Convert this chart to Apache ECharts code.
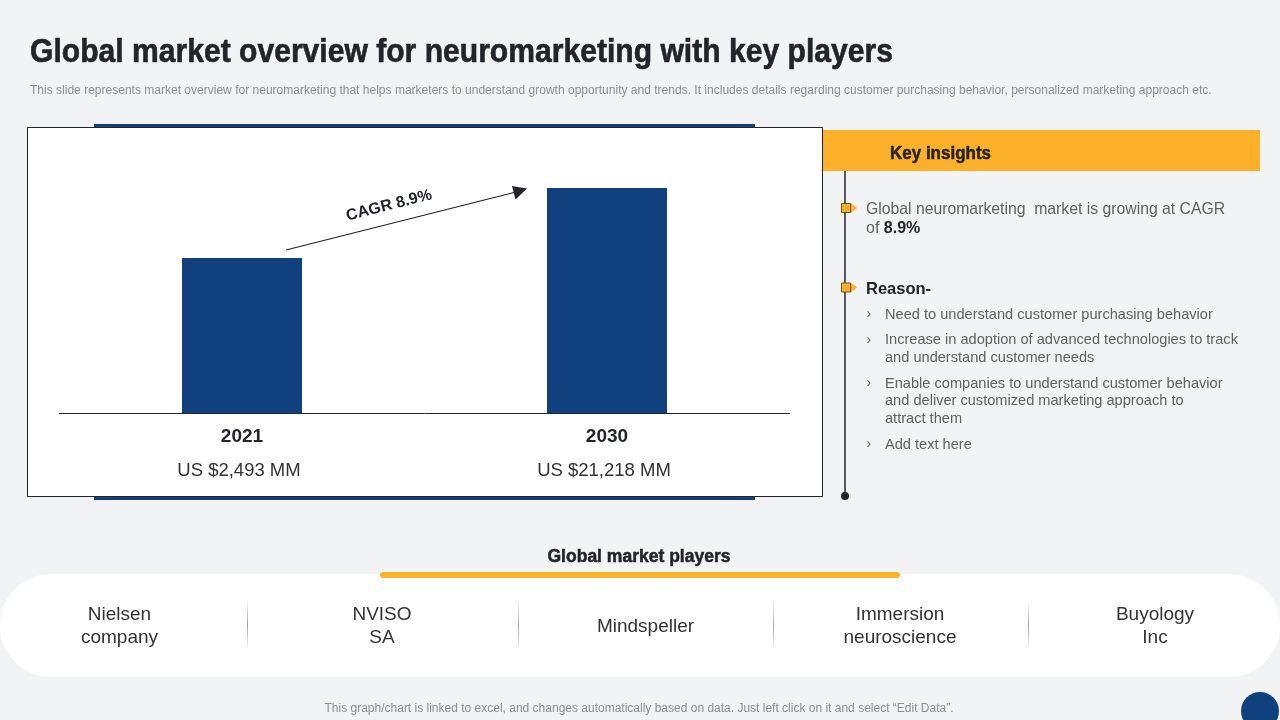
<!DOCTYPE html>
<html>
<head>
<meta charset="utf-8">
<title>Global market overview</title>
<style>
html,body{margin:0;padding:0;background:#f2f3f5;}
#container{width:1280px;height:720px;}
</style>
<script src="https://cdn.jsdelivr.net/npm/echarts@6/dist/echarts.min.js"></script>
</head>
<body>
<div id="container"></div>
<script>
// chart data
var years = ['2021', '2030'];
var marketValues = [2493, 21218];
var marketLabels = ['US $2,493 MM', 'US $21,218 MM'];
var cagrLabel = 'CAGR 8.9%';
var playerNames = ['Nielsen\ncompany', 'NVISO\nSA', 'Mindspeller', 'Immersion\nneuroscience', 'Buyology\nInc'];
var reasons = [
    'Need to understand customer purchasing behavior',
    'Increase in adoption of advanced technologies to track\nand understand customer needs',
    'Enable companies to understand customer behavior\nand deliver customized marketing approach to\nattract them',
    'Add text here'
];

var navy = '#11407f';
var orange = '#fdb12b';
var dark = '#222429';
var grey = '#616161';
var sans = '"Liberation Sans", Arial, sans-serif';

// plain text element, sx squeezes it to the width on the slide
function txt(x, y, text, size, color, opt) {
    opt = opt || {};
    return {
        type: 'text',
        x: x,
        y: y,
        z: 5,
        scaleX: opt.sx || 1,
        rotation: opt.rot || 0,
        style: {
            text: text,
            fill: color,
            stroke: opt.heavy ? color : undefined,
            lineWidth: opt.heavy || 0,
            font: (opt.weight || 'normal') + ' ' + size + 'px ' + sans,
            align: opt.align || 'left',
            verticalAlign: 'middle',
            lineHeight: opt.lh,
            rich: opt.rich
        }
    };
}
function box(x, y, w, h, fill, opt) {
    opt = opt || {};
    return {
        type: 'rect',
        z: opt.z === undefined ? 1 : opt.z,
        shape: {x: x, y: y, width: w, height: h, r: opt.r || 0},
        style: {fill: fill, stroke: opt.stroke, lineWidth: opt.lw || 0}
    };
}
function marker(y) {
    return [
        {type: 'polygon', z: 3, shape: {points: [[851, y - 5], [857, y], [851, y + 5]]}, style: {fill: orange}},
        box(841.5, y - 4.5, 9, 9, orange, {z: 4, stroke: '#6e5520', lw: 1})
    ];
}

var elements = [];
// slide furniture
elements.push(box(94, 124, 661, 376, navy, {z: -3}));
elements.push(box(27.5, 127.5, 795, 369, '#ffffff', {z: -2, stroke: dark, lw: 1}));
elements.push(txt(30, 52.5, 'Global market overview for neuromarketing with key players', 34, dark, {weight: 'bold', sx: 0.885, heavy: 0.6}));
elements.push(txt(30, 91, 'This slide represents market overview for neuromarketing that helps marketers to understand growth opportunity and trends. It includes details regarding customer purchasing behavior, personalized marketing approach etc.', 12, '#8b8d91', {sx: 1.002}));

// cagr arrow
elements.push({type: 'line', z: 5, shape: {x1: 286, y1: 250, x2: 516, y2: 192}, style: {stroke: dark, lineWidth: 1.2}});
elements.push({type: 'polygon', z: 5, shape: {points: [[527, 188.5], [512, 186], [515.5, 199.5]]}, style: {fill: dark}});
elements.push(txt(389, 205.5, cagrLabel, 16, dark, {weight: 'bold', align: 'center', rot: 0.25}));

// key insights panel
elements.push(box(823, 130, 437, 41, orange));
elements.push(txt(890, 153.5, 'Key insights', 19, dark, {weight: 'bold', sx: 0.894, heavy: 0.5}));
elements.push({type: 'line', z: 2, shape: {x1: 845, y1: 171, x2: 845, y2: 496}, style: {stroke: dark, lineWidth: 1.5}});
elements.push({type: 'circle', z: 2, shape: {cx: 845, cy: 496, r: 4}, style: {fill: dark}});
elements = elements.concat(marker(208), marker(287.5));
elements.push(txt(866, 209.5, 'Global neuromarketing  market is growing at CAGR', 16, grey, {sx: 0.985}));
elements.push(txt(866, 228.5, '{a|of }{b|8.9%}', 16, grey, {rich: {
    a: {fill: grey, font: 'normal 16px ' + sans},
    b: {fill: dark, font: 'bold 16px ' + sans}
}}));
elements.push(txt(866, 289.5, 'Reason-', 16.5, dark, {weight: 'bold'}));

var reasonY = [314.5, 349, 401, 444.5];
var chevronY = [314, 340, 383, 444];
for (var i = 0; i < reasons.length; i++) {
    elements.push(txt(866.5, chevronY[i], '\u203a', 14, grey));
    elements.push(txt(885, reasonY[i], reasons[i], 15, grey, {lh: 17.5, sx: 0.973}));
}

// players strip
elements.push(box(0, 574, 1280, 103, '#ffffff', {r: 51, z: 1}));
elements.push(box(380, 572, 520, 6, orange, {r: 3, z: 3}));
elements.push(txt(639, 557.5, 'Global market players', 18, dark, {weight: 'bold', align: 'center', sx: 0.973, heavy: 0.5}));
var playerX = [119.5, 382, 645.5, 900, 1155];
for (var j = 0; j < playerNames.length; j++) {
    elements.push(txt(playerX[j], 626.5, playerNames[j], 19, '#333333', {align: 'center', lh: 23}));
}
var sepX = [247.5, 518.5, 773.5, 1028.5];
for (var k = 0; k < sepX.length; k++) {
    elements.push({
        type: 'rect',
        z: 2,
        shape: {x: sepX[k] - 0.5, y: 600, width: 1, height: 50},
        style: {fill: new echarts.graphic.LinearGradient(0, 0, 0, 1, [
            {offset: 0, color: 'rgba(150,150,150,0)'},
            {offset: 0.5, color: 'rgba(150,150,150,0.9)'},
            {offset: 1, color: 'rgba(150,150,150,0)'}
        ])}
    });
}
elements.push(txt(639, 709, 'This graph/chart is linked to excel, and changes automatically based on data. Just left click on it and select \u201cEdit Data\u201d.', 12, '#8b8d91', {align: 'center'}));
elements.push({type: 'circle', z: 2, shape: {cx: 1260, cy: 711, r: 19}, style: {fill: navy}});

var myChart = echarts.init(document.getElementById('container'));
var option = {
    backgroundColor: '#f2f3f5',
    animation: false,
    graphic: {elements: elements},
    grid: {left: 59.5, right: 490.5, top: 188, bottom: 307, containLabel: false},
    xAxis: {
        type: 'category',
        data: years,
        axisTick: {show: false},
        axisLine: {lineStyle: {color: dark, width: 1}},
        axisLabel: {
            margin: 7,
            formatter: function (value, index) {
                return '{y|' + value + '}\n{v|' + marketLabels[index] + '}';
            },
            rich: {
                y: {fontFamily: sans, fontWeight: 'bold', fontSize: 19, color: dark, lineHeight: 34},
                v: {fontFamily: sans, fontSize: 18.5, color: '#333333', lineHeight: 34, padding: [0, 6, 0, 0]}
            }
        }
    },
    // the slide's bars follow a compressed scale, a log axis reproduces it from the real values
    yAxis: {
        type: 'log',
        logBase: 10,
        min: 21.75,
        max: 21218,
        show: false
    },
    series: [{
        type: 'bar',
        data: marketValues,
        barWidth: 120,
        z: 3,
        itemStyle: {color: navy}
    }]
};
myChart.setOption(option);
</script>
</body>
</html>
